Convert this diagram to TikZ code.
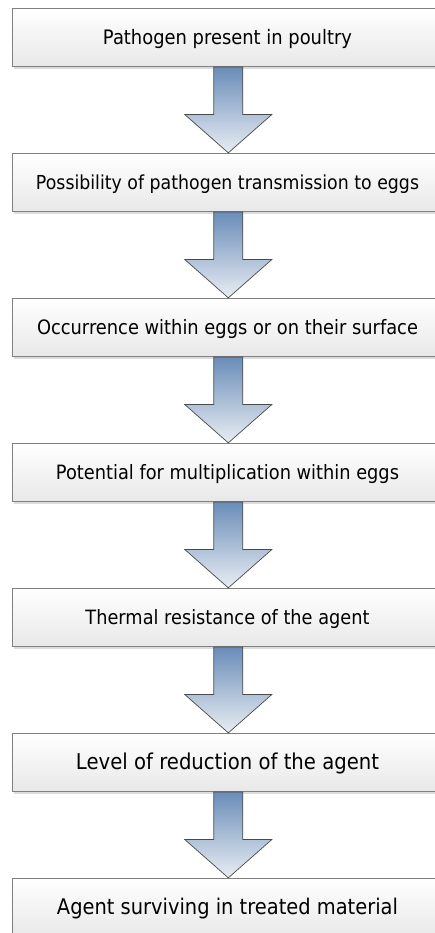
\documentclass[tikz,border=0pt]{standalone}
\usepackage{fontspec}
\setmainfont{DejaVu Sans}[FakeStretch=0.9]
\usetikzlibrary{calc,shadows}
\definecolor{boxline}{HTML}{808080}
\definecolor{boxtop}{HTML}{FFFFFF}
\definecolor{boxbot}{HTML}{E8E8E8}
\definecolor{arrtop}{HTML}{6A8DB8}
\definecolor{arrbot}{HTML}{E9EDF3}
\definecolor{arrline}{HTML}{4A4A4A}
\newcommand\fitw[2]{\resizebox{#1}{!}{#2}}
\newcommand\flowarr[2]{%
  \path[flowarrow] let \p1=(#1.south), \p2=(#2.north) in
    ({\x1-13.7pt},{\y1}) -- ({\x1+15.3pt},{\y1}) -- ({\x1+15.3pt},{\y2+38.3pt})
    -- ({\x1+44.3pt},{\y2+38.3pt}) -- ({\x1+0.8pt},{\y2})
    -- ({\x1-42.7pt},{\y2+38.3pt}) -- ({\x1-13.7pt},{\y2+38.3pt}) -- cycle;}
\begin{document}
\begin{tikzpicture}[x=1pt,y=1pt,
  flowbox/.style={rectangle, draw=boxline, line width=0.9pt,
    top color=boxtop, bottom color=boxbot,
    minimum width=430pt, minimum height=58.3pt, inner sep=0pt,
    text height=14.4pt, text depth=0pt,
    font=\fontsize{19.8}{24}\selectfont,
    drop shadow={shadow xshift=1.5pt, shadow yshift=-2.5pt, fill=black!30, opacity=0.45}},
  flowarrow/.style={draw=arrline, line width=0.7pt, top color=arrtop, bottom color=arrbot}
]
\useasboundingbox (0,0) rectangle (435,-933);
\clip (0,0) rectangle (435,-933);
\node[flowbox] (b1) at (227.5,-37.45)  {\fitw{249pt}{Pathogen present in poultry}};
\node[flowbox] (b2) at (227.5,-182.45) {\fitw{383pt}{Possibility of pathogen transmission to eggs}};
\node[flowbox] (b3) at (227.5,-327.45) {\fitw{381pt}{Occurrence within eggs or on their surface}};
\node[flowbox] (b4) at (227.5,-472.45) {\fitw{343pt}{Potential for multiplication within eggs}};
\node[flowbox] (b5) at (227.5,-617.45) {\fitw{284pt}{Thermal resistance of the agent}};
\node[flowbox] (b6) at (227.5,-762.45) {\fitw{303pt}{Level of reduction of the agent}};
\node[flowbox] (b7) at (227.5,-907.45) {\fitw{341pt}{Agent surviving in treated material}};
\flowarr{b1}{b2}
\flowarr{b2}{b3}
\flowarr{b3}{b4}
\flowarr{b4}{b5}
\flowarr{b5}{b6}
\flowarr{b6}{b7}
\end{tikzpicture}
\end{document}
